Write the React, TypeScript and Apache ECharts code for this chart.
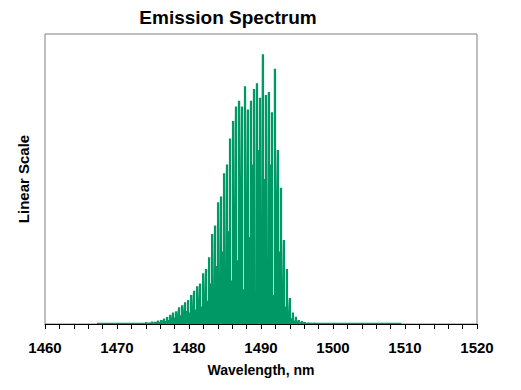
import React, { useEffect, useRef } from "react";
import * as echarts from "echarts";

// Emission line positions (nm) (first/last = floor start/end)
const wavelengths = [
  1467.2,
  1473.90, 1474.32, 1474.73, 1475.15, 1475.56, 1475.98, 1476.39, 1476.81, 1477.23, 1477.64,
  1478.06, 1478.47, 1478.89, 1479.30, 1479.72, 1480.14, 1480.55, 1480.97, 1481.38, 1481.80,
  1482.21, 1482.63, 1483.05, 1483.46, 1483.88, 1484.29, 1484.71, 1485.12, 1485.54, 1485.96,
  1486.37, 1486.79, 1487.20, 1487.62, 1488.03, 1488.45, 1488.87, 1489.28, 1489.70, 1490.11,
  1490.53, 1490.94, 1491.36, 1491.78, 1492.19, 1492.61, 1493.02, 1493.44, 1493.85, 1494.27,
  1494.69, 1495.10, 1495.52, 1495.93, 1496.35, 1496.76, 1497.18, 1497.60,
  1509.5,
];

// Peak level of each line (linear scale, 0–100)
const peaks = [
  0.4,
  0.7, 0.6, 0.9, 0.8, 1.2, 1.4, 1.9, 2.4, 3.2, 4.0,
  4.4, 5.8, 6.5, 7.5, 8.3, 10.0, 11.5, 13.0, 14.0, 17.5,
  19.0, 23, 31, 34, 42, 44, 52, 55, 64, 70,
  75, 77, 75, 82, 74, 77, 81, 83, 78, 93,
  79, 80, 73, 88, 60, 47, 29, 19, 9, 4,
  2.5, 1.4, 1.0, 0.7, 0.6, 0.5, 0.5, 0.4,
  0,
];

// Level of the dip that follows each line
const valleys = [
  0.4,
  0.4, 0.4, 0.5, 0.5, 0.7, 0.8, 1.0, 1.4, 1.8, 2.2,
  2.8, 3.0, 4.0, 4.5, 4.0, 6.0, 5.0, 8.0, 6.0, 10.0,
  8.0, 14, 12, 20, 16, 25, 18, 32, 15, 40,
  22, 50, 12, 45, 30, 55, 8, 60, 35, 50,
  20, 55, 10, 45, 25, 14, 6, 4, 2, 1.2,
  0.8, 0.6, 0.5, 0.4, 0.4, 0.4, 0.4, 0.4,
  0,
];

const xTicks = [1460, 1520, 10];
const MODE_WIDTH = 0.32;
const FONT = "'Liberation Sans', Arial, Helvetica, sans-serif";
const GREEN = "#009966";

export default function App() {
  const ref = useRef<HTMLDivElement>(null);

  useEffect(() => {
    document.body.style.margin = "0";
    if (!ref.current) return;
    const chart = echarts.init(ref.current, undefined, { renderer: "svg" });

    const stepData: number[][] = [];
    wavelengths.forEach((w, i) => {
      stepData.push([w, peaks[i]]);
      stepData.push([w + MODE_WIDTH, valleys[i]]);
    });

    chart.setOption({
      animation: false,
      backgroundColor: "#ffffff",
      title: {
        text: "Emission Spectrum",
        left: 228,
        top: 8,
        padding: 0,
        textAlign: "center",
        textStyle: { fontFamily: FONT, fontWeight: "bold", fontSize: 19, color: "#000" },
      },
      grid: {
        left: 45,
        right: 44,
        top: 34,
        bottom: 66,
        show: true,
        borderColor: "#808080",
        borderWidth: 1,
        backgroundColor: "#ffffff",
      },
      xAxis: {
        type: "value",
        min: xTicks[0],
        max: xTicks[1],
        interval: xTicks[2],
        name: "Wavelength, nm",
        nameLocation: "middle",
        nameGap: 39,
        nameTextStyle: { fontFamily: FONT, fontWeight: "bold", fontSize: 14, color: "#000" },
        axisLine: { show: true, lineStyle: { color: "#000", width: 1 } },
        axisTick: { show: true, inside: false, length: 5, lineStyle: { color: "#000" } },
        minorTick: { show: true, splitNumber: 5, length: 5, lineStyle: { color: "#000" } },
        splitLine: { show: false },
        minorSplitLine: { show: false },
        axisLabel: {
          fontFamily: FONT,
          fontWeight: "bold",
          fontSize: 15,
          color: "#000",
          margin: 16,
          formatter: (v: number) => String(v),
        },
      },
      yAxis: {
        type: "value",
        min: 0,
        max: 100,
        name: "Linear Scale",
        nameLocation: "middle",
        nameGap: 14,
        nameTextStyle: { fontFamily: FONT, fontWeight: "bold", fontSize: 15, color: "#000" },
        axisLine: { show: false },
        axisTick: { show: false },
        axisLabel: { show: false },
        splitLine: { show: false },
      },
      series: [
        {
          type: "line",
          data: stepData,
          step: "end",
          showSymbol: false,
          symbol: "none",
          lineStyle: { width: 0, opacity: 0 },
          areaStyle: { color: GREEN, opacity: 1 },
          silent: true,
        },
      ],
    });

    return () => chart.dispose();
  }, []);

  return <div ref={ref} style={{ width: 521, height: 390 }} />;
}
